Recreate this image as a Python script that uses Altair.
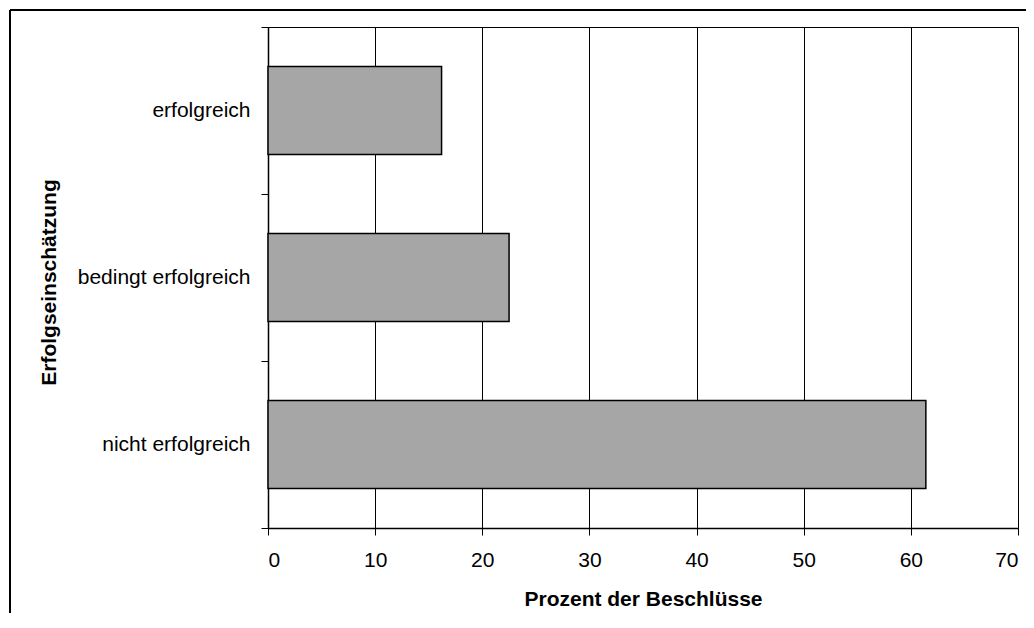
import altair as alt
import pandas as pd

categories = ["erfolgreich", "bedingt erfolgreich", "nicht erfolgreich"]
values = [16.2, 22.5, 61.4]
x_ticks = [0, 10, 20, 30, 40, 50, 60, 70]

df = pd.DataFrame({"Kategorie": categories, "Prozent": values})
frame_df = pd.DataFrame({"a": [0]})

FONT = "Liberation Sans"

bars = alt.Chart(df).mark_bar(
    color="#a6a6a6", stroke="black", strokeWidth=1.5,
    height=alt.RelativeBandSize(0.527)
).encode(
    x=alt.X(
        "Prozent:Q",
        scale=alt.Scale(domain=[0, 70], nice=False, zero=True),
        axis=alt.Axis(
            values=x_ticks, title="Prozent der Beschlüsse", grid=True,
            gridColor="black", gridWidth=1, gridOpacity=1,
            domainColor="black", domainWidth=1.5,
            tickColor="black", tickSize=7, tickWidth=1,
            labelFont=FONT, labelFontSize=21, labelColor="black", labelPadding=14,
            titleFont=FONT, titleFontSize=21, titleFontWeight="bold", titleColor="black",
            titleBaseline="alphabetic", titleY=77,
        ),
    ),
    y=alt.Y(
        "Kategorie:N", sort=categories,
        scale=alt.Scale(paddingInner=0, paddingOuter=0),
        axis=alt.Axis(
            tickBand="extent", grid=False, title="Erfolgseinschätzung",
            domainColor="black", domainWidth=1.5,
            tickColor="black", tickSize=7, tickWidth=1,
            labelFont=FONT, labelFontSize=21, labelColor="black", labelPadding=11,
            labelLimit=300,
            titleFont=FONT, titleFontSize=21, titleFontWeight="bold", titleColor="black",
            titleAngle=-90, titleBaseline="alphabetic", titleX=-213, titleY=255,
        ),
    ),
)

frame_top = alt.Chart(frame_df).mark_rule(color="black", strokeWidth=2).encode(
    x=alt.value(-258), x2=alt.value(780), y=alt.value(-17)
)
frame_left = alt.Chart(frame_df).mark_rule(color="black", strokeWidth=2).encode(
    x=alt.value(-258), y=alt.value(-17), y2=alt.value(700)
)

chart = alt.layer(bars, frame_top, frame_left).properties(
    width=750, height=501,
    padding={"left": 260, "top": 19, "right": 8, "bottom": 85},
    autosize=alt.AutoSizeParams(type="none"),
    background="white",
).configure_view(stroke="black", strokeWidth=1)

chart.save("out.html", embed_options={"renderer": "svg", "actions": False})
